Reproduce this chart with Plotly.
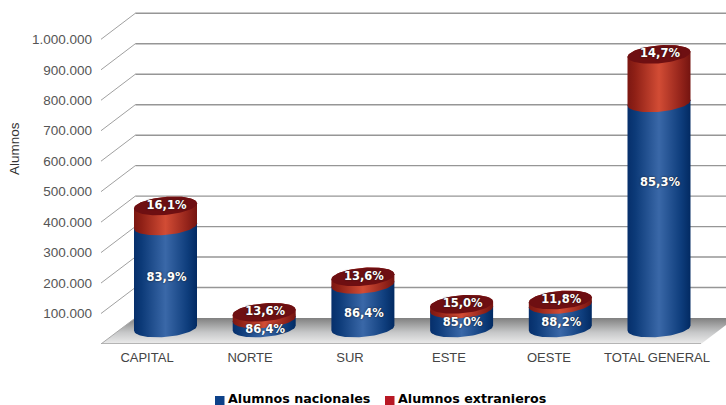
import numpy as np
import plotly.graph_objects as go

# ---- data ----
categories = ["CAPITAL", "NORTE", "SUR", "ESTE", "OESTE", "TOTAL GENERAL"]
nacionales = [335000, 29500, 143000, 62000, 77000, 739000]
extranjeros = [65600, 22000, 25000, 16000, 15000, 159000]
pct_nacionales = ["83,9%", "86,4%", "86,4%", "85,0%", "88,2%", "85,3%"]
pct_extranjeros = ["16,1%", "13,6%", "13,6%", "15,0%", "11,8%", "14,7%"]
value_ticks = [100000, 200000, 300000, 400000, 500000, 600000, 700000, 800000, 900000, 1000000]
# heights at which the percentage captions of the blue part sit
nat_label_values = [164000, -6500, 46000, 16000, 16000, 475000]
series_names = ["Alumnos nacionales", "Alumnos extranieros"]
series_colors = ["#0d4189", "#b81824"]

# ---- geometry / scales ----
FIG_W, FIG_H = 726, 405
M_L, M_B = 101, 61
PX_SLOT = 100.0
PX_100K = 30.47
plot_w = FIG_W - M_L
plot_h = FIG_H - M_B
X_MAX = plot_w / PX_SLOT
Y_MAX = plot_h / PX_100K * 100000


def dx(px):
    return px / PX_SLOT


def dy(px):
    return px / PX_100K * 100000


DEPTH_X, DEPTH_Y = dx(34.3), dy(26)
BAR_OFFSET_X, BAR_OFFSET_Y = dx(64.5), dy(16)
BAR_STEP = 0.987
RX, RY, TILT = dx(31.5), dy(9), dy(2.6)
label_x = [0.46, 1.49, 2.49, 3.48, 4.48, 5.56]

NAVY = [[0, "#062f6b"], [0.12, "#0c3a78"], [0.5, "#3a68a8"], [0.85, "#0e3d7c"], [1, "#022a62"]]
BRICK = [[0, "#7c1712"], [0.12, "#8f2016"], [0.5, "#d24c35"], [0.85, "#93231a"], [1, "#741410"]]
TOP_RED = "#6e0f12"
GRID = "#969696"

traces = []

# floor
fx = [0, DEPTH_X, 6 + DEPTH_X, 6, 0]
fy = [0, DEPTH_Y, DEPTH_Y, 0, 0]
traces.append(go.Scatter(
    x=fx, y=fy, mode="lines", line=dict(width=0), fill="toself", hoverinfo="skip", showlegend=False,
    fillgradient=dict(type="vertical", colorscale=[[0, "#ececec"], [0.45, "#c6c7c8"], [1, "#808080"]]),
))
traces.append(go.Scatter(x=[0, 6], y=[0, 0], mode="lines", line=dict(color="#b4b4b4", width=2),
                         hoverinfo="skip", showlegend=False))
traces.append(go.Scatter(x=[0, DEPTH_X], y=[0, DEPTH_Y], mode="lines", line=dict(color="#a8a8a8", width=1),
                         hoverinfo="skip", showlegend=False))

# back wall gridlines + wall diagonals
gx, gy, qx, qy = [], [], [], []
for v in value_ticks:
    gx += [DEPTH_X, X_MAX + 1, None]
    gy += [v + DEPTH_Y, v + DEPTH_Y, None]
    qx += [0, DEPTH_X, None]
    qy += [v, v + DEPTH_Y, None]
traces.append(go.Scatter(x=gx, y=gy, mode="lines", line=dict(color=GRID, width=1.4),
                         hoverinfo="skip", showlegend=False))
traces.append(go.Scatter(x=qx, y=qy, mode="lines", line=dict(color="#a0a0a0", width=1),
                         hoverinfo="skip", showlegend=False))

T_LOW = np.linspace(np.pi, 2 * np.pi, 40)   # lower half, left -> right
T_UP = np.linspace(0, np.pi, 40)            # upper half, right -> left


def arc(cx, cv, t):
    """Ellipse arc around (cx, cv) in axis units; sin<0 is the near (low) side."""
    return cx + RX * np.cos(t), cv + RY * np.sin(t) + TILT * np.cos(t)


def body(cx, v0, v1, scale):
    x0, y0 = arc(cx, v0, T_LOW)
    x1, y1 = arc(cx, v1, T_UP)
    return go.Scatter(
        x=np.r_[x0, x1, x0[0]], y=np.r_[y0, y1, y0[0]], mode="lines", line=dict(width=0),
        fill="toself", hoverinfo="skip", showlegend=False,
        fillgradient=dict(type="horizontal", colorscale=scale),
    )


centers = [BAR_OFFSET_X + BAR_STEP * i for i in range(len(categories))]
for cx, nat, ext in zip(centers, nacionales, extranjeros):
    base = BAR_OFFSET_Y
    traces.append(body(cx, base, base + nat, NAVY))
    traces.append(body(cx, base + nat, base + nat + ext, BRICK))
    t = np.linspace(0, 2 * np.pi, 80)
    ex, ey = arc(cx, base + nat + ext, t)
    traces.append(go.Scatter(x=ex, y=ey, mode="lines", line=dict(width=0), fill="toself",
                             fillcolor=TOP_RED, hoverinfo="skip", showlegend=False))

label_font = dict(family="DejaVu Sans", size=11.5, color="white", weight="bold",
                  shadow="0 0 2px #1a1a1a")
traces.append(go.Scatter(
    x=[c + dx(1) for c in centers],
    y=[BAR_OFFSET_Y + v for v in nat_label_values],
    text=pct_nacionales, mode="text", textposition="middle center",
    textfont=label_font, hoverinfo="skip", showlegend=False,
))
traces.append(go.Scatter(
    x=[c + dx(1) for c in centers],
    y=[BAR_OFFSET_Y + n + e for n, e in zip(nacionales, extranjeros)],
    text=pct_extranjeros, mode="text", textposition="middle center",
    textfont=label_font, hoverinfo="skip", showlegend=False,
))

# legend, placed by hand in page fractions so swatch and text sit as tight as in the reference
legend_x_frac = [215 / FIG_W, 385 / FIG_W]
shapes, notes = [], []
for name, colour, x0 in zip(series_names, series_colors, legend_x_frac):
    shapes.append(dict(type="rect", xref="paper", yref="paper", layer="above", line=dict(width=0),
                       fillcolor=colour,
                       x0=(x0 * FIG_W - M_L) / plot_w, x1=(x0 * FIG_W + 9.5 - M_L) / plot_w,
                       y0=(plot_h - 405) / plot_h, y1=(plot_h - 396) / plot_h))
    notes.append(dict(text=name, xref="paper", yref="paper", showarrow=False,
                      x=(x0 * FIG_W + 10.5 - M_L) / plot_w, y=(plot_h - 398.5) / plot_h,
                      xanchor="left", yanchor="middle",
                      font=dict(family="DejaVu Sans", size=12.7, color="#000000", weight="bold")))
notes.append(dict(text="Alumnos", xref="paper", yref="paper", x=(14 - M_L) / plot_w,
                  y=(plot_h - 149) / plot_h, showarrow=False, textangle=-90,
                  xanchor="center", yanchor="middle",
                  font=dict(size=13.5, color="#333333")))

fig = go.Figure(traces)
fig.update_layout(
    width=FIG_W, height=FIG_H,
    margin=dict(l=M_L, r=0, t=0, b=M_B, pad=0),
    paper_bgcolor="white", plot_bgcolor="white",
    separators=",.",
    font=dict(family="Liberation Sans", size=13, color="#444444"),
    showlegend=False,
    shapes=shapes,
    annotations=notes,
    xaxis=dict(range=[0, X_MAX], showgrid=False, zeroline=False, showline=False, ticks="",
               tickmode="array", tickvals=label_x, ticktext=categories,
               tickfont=dict(size=13, color="#444444"), ticklabelstandoff=4, fixedrange=True),
    yaxis=dict(range=[0, Y_MAX], showgrid=False, zeroline=False, showline=False, ticks="",
               tickmode="array", tickvals=value_ticks, tickformat=",d",
               tickfont=dict(size=13.5, color="#555555"), ticklabelstandoff=8, fixedrange=True),
)

fig.write_html("out.html", config=dict(displayModeBar=False),
               post_script="document.body.style.margin='0';document.body.style.overflow='hidden';")
